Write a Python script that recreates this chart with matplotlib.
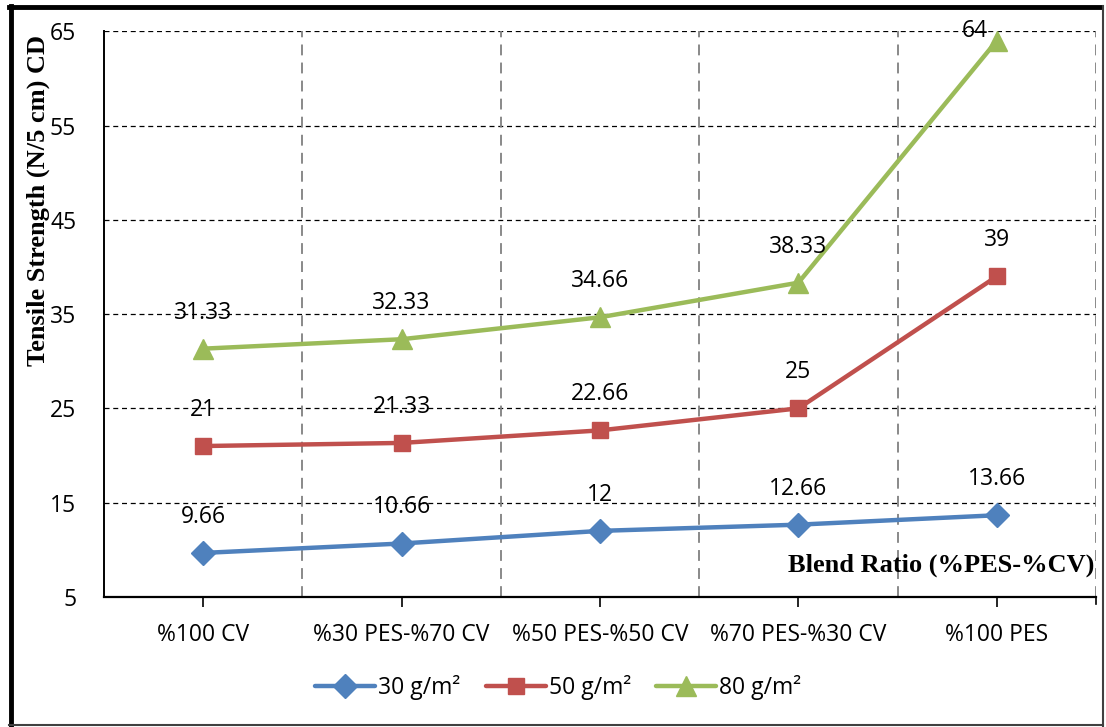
import matplotlib.pyplot as plt
from matplotlib.lines import Line2D

CATEGORIES = ["%100 CV", "%30 PES-%70 CV", "%50 PES-%50 CV", "%70 PES-%30 CV", "%100 PES"]
GSM_30 = [9.66, 10.66, 12, 12.66, 13.66]
GSM_50 = [21, 21.33, 22.66, 25, 39]
GSM_80 = [31.33, 32.33, 34.66, 38.33, 64]
Y_TICKS = [5, 15, 25, 35, 45, 55, 65]

SERIES = [
    ("30 g/m²", GSM_30, "#4F81BD", "D", 12),
    ("50 g/m²", GSM_50, "#C0504D", "s", 12),
    ("80 g/m²", GSM_80, "#9BBB59", "^", 14),
]

LABEL_FONT = ["Open Sans", "DejaVu Sans"]
SERIF_BOLD = dict(family="Liberation Serif", fontweight="bold")
FS = 16.5


def fmt(v):
    return f"{v:g}"


fig = plt.figure(figsize=(11.06, 7.27), dpi=100)
ax = fig.add_axes([0.094, 0.179, 0.897, 0.778])

xs = list(range(1, len(CATEGORIES) + 1))
for label, vals, color, marker, ms in SERIES:
    ax.plot(xs, vals, color=color, lw=3.2, marker=marker, ms=ms,
            label=label, zorder=3, solid_capstyle="round")
    for x, v in zip(xs, vals):
        off = (0, 26)
        if v == 64:
            off = (-16, 7)
        ax.annotate(fmt(v), (x, v), xytext=off, textcoords="offset points",
                    ha="center", va="center", fontsize=FS, family=LABEL_FONT,
                    zorder=4)

ax.set_xlim(0.5, 5.5)
ax.set_ylim(5, 65)
ax.set_yticks(Y_TICKS)
ax.set_xticks(xs)
ax.set_xticklabels(CATEGORIES, family=LABEL_FONT, fontsize=FS)
ax.tick_params(axis="y", length=0, pad=20, labelsize=FS)
for t in ax.get_yticklabels():
    t.set_family(LABEL_FONT)
ax.tick_params(axis="x", direction="out", length=7, width=1.2, pad=12)

# horizontal dashed gridlines
for y in Y_TICKS[1:]:
    ax.axhline(y, color="black", lw=0.9, ls=(0, (4, 3)), zorder=1)
# category boundaries
for b in [1.5, 2.5, 3.5, 4.5, 5.5]:
    ax.axvline(b, color="#808080", lw=1.3, ls=(0, (6, 4)), zorder=1)

for side in ["top", "right"]:
    ax.spines[side].set_visible(False)
ax.spines["left"].set_linewidth(1.4)
ax.spines["bottom"].set_linewidth(1.6)
# tick at the right end of the category axis
ax.plot([5.5, 5.5], [0, -0.012], transform=ax.get_xaxis_transform(),
        color="black", lw=1.2, clip_on=False)

ax.set_ylabel("Tensile Strength (N/5 cm) CD", fontsize=19, **SERIF_BOLD)
ax.yaxis.set_label_coords(-0.054, 0.7)
ax.text(0.998, 0.055, "Blend Ratio (%PES-%CV)", transform=ax.transAxes,
        ha="right", va="center", fontsize=19, **SERIF_BOLD)

ax.legend(loc="center", bbox_to_anchor=(0.505, 0.054), bbox_transform=fig.transFigure,
          ncol=3, frameon=False, handlelength=2.6, columnspacing=1.1,
          handletextpad=0.15, prop={"family": LABEL_FONT, "size": FS})

# chart frame
fig.add_artist(Line2D([0.0095, 0.0095], [0.0, 0.992], color="black", lw=3.5))
fig.add_artist(Line2D([0.008, 0.995], [0.991, 0.991], color="black", lw=3.5))
fig.add_artist(Line2D([0.997, 0.997], [0.0, 0.992], color="#404040", lw=1.5))
fig.add_artist(Line2D([0.008, 0.997], [0.003, 0.003], color="#404040", lw=1.5))

fig.savefig("out.png", dpi=100)
